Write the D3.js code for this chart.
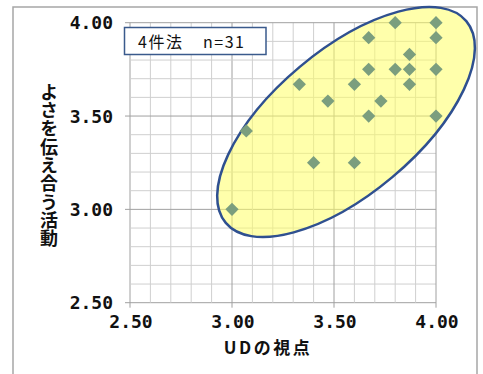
<!DOCTYPE html>
<html><head><meta charset="utf-8">
<script src="https://cdn.jsdelivr.net/npm/d3@7/dist/d3.min.js"></script>
<style>body{margin:0;background:#fff}svg{display:block}</style>
</head><body><svg id="c" width="483" height="374"></svg>
<script>
// Data (UDの視点, よさを伝え合う活動) — distinct visible points
const udValues   = [3.80,4.00,3.67,4.00,3.87,3.67,3.80,3.87,4.00,3.33,3.60,3.87,3.47,3.73,3.67,4.00,3.07,3.40,3.60,3.00];
const yosaValues = [4.00,4.00,3.92,3.92,3.83,3.75,3.75,3.75,3.75,3.67,3.67,3.67,3.58,3.58,3.50,3.50,3.42,3.25,3.25,3.00];
const tickValues = [2.50,3.00,3.50,4.00];
const tickLabels = ["2.50","3.00","3.50","4.00"];
const xTitle = "UDの視点";
const yTitle = "よさを伝え合う活動";
const boxLabelA = "4件法";
const boxLabelB = "n=31";
const ellipseCenter = [3.559, 3.468];

const svg = d3.select("#c");
const x = d3.scaleLinear().domain([2.5,4]).range([130,436]);
const y = d3.scaleLinear().domain([2.5,4]).range([302.7,22.7]);

// outer frame
svg.append("rect").attr("x",13).attr("y",7).attr("width",464).attr("height",380)
  .attr("fill","none").attr("stroke","#a6a6a6").attr("stroke-width",1.5);

// grid
const minor = d3.range(25,41).map(v=>v/10);
const g = svg.append("g");
minor.forEach(v=>{
  const major = Math.abs(v*2 - Math.round(v*2))<1e-6;
  g.append("line").attr("x1",x(v)).attr("x2",x(v)).attr("y1",y(4)).attr("y2",y(2.5)+(major?5:0))
    .attr("stroke",major?"#a0a0a0":"#cfcfcf").attr("stroke-width",1);
  g.append("line").attr("y1",y(v)).attr("y2",y(v)).attr("x1",x(2.5)-(major?5:0)).attr("x2",x(4))
    .attr("stroke",major?"#a0a0a0":"#cfcfcf").attr("stroke-width",1);
});

// ellipse annotation
svg.append("ellipse")
  .attr("cx",0).attr("cy",0).attr("rx",157).attr("ry",72)
  .attr("transform",`translate(${x(ellipseCenter[0])},${y(ellipseCenter[1])}) rotate(-40)`)
  .attr("fill","rgba(255,255,102,0.55)").attr("stroke","#2f5090").attr("stroke-width",2.5);

// points
const sym = d3.symbol().type(d3.symbolSquare).size(88);
svg.append("g").selectAll("path").data(udValues).join("path")
  .attr("d",sym())
  .attr("transform",(d,i)=>`translate(${x(d)},${y(yosaValues[i])}) rotate(45)`)
  .attr("fill","#7b9e7e");

// tick labels
const tf = "'DejaVu Sans Mono',monospace";
svg.append("g").selectAll("text").data(tickValues).join("text")
  .attr("x",113).attr("y",d=>y(d)).attr("dy","0.36em").attr("text-anchor","end")
  .attr("font-family",tf).attr("font-weight","bold").attr("font-size",18).attr("fill","#111")
  .text((d,i)=>tickLabels[i]);
svg.append("g").selectAll("text").data(tickValues).join("text")
  .attr("x",d=>x(d)+1).attr("y",328).attr("text-anchor","middle")
  .attr("font-family",tf).attr("font-weight","bold").attr("font-size",18).attr("fill","#111")
  .text((d,i)=>tickLabels[i]);

// axis titles
svg.append("text").attr("x",268).attr("y",354).attr("text-anchor","middle")
  .attr("font-family","'Noto Sans CJK JP',sans-serif").attr("font-weight","bold")
  .attr("font-size",17).attr("letter-spacing",2.5).attr("fill","#111").text(xTitle);
svg.append("text").attr("x",49).attr("y",83)
  .attr("writing-mode","vertical-rl")
  .attr("font-family","'Noto Sans CJK JP',sans-serif")
  .attr("font-weight","bold").attr("font-size",18).attr("letter-spacing",0.3)
  .attr("fill","#111").text(yTitle);

// label box
svg.append("rect").attr("x",124.5).attr("y",27.5).attr("width",141.5).attr("height",27)
  .attr("fill","#fff").attr("stroke","#3a5a8c").attr("stroke-width",1.5);
const bt = svg.append("text").attr("x",138).attr("y",47.5).attr("font-family","'Noto Sans CJK JP',sans-serif")
  .attr("font-size",16).attr("letter-spacing",1.5).attr("fill","#111");
bt.append("tspan").text(boxLabelA);
bt.append("tspan").attr("x",203).text(boxLabelB);
</script></body></html>
